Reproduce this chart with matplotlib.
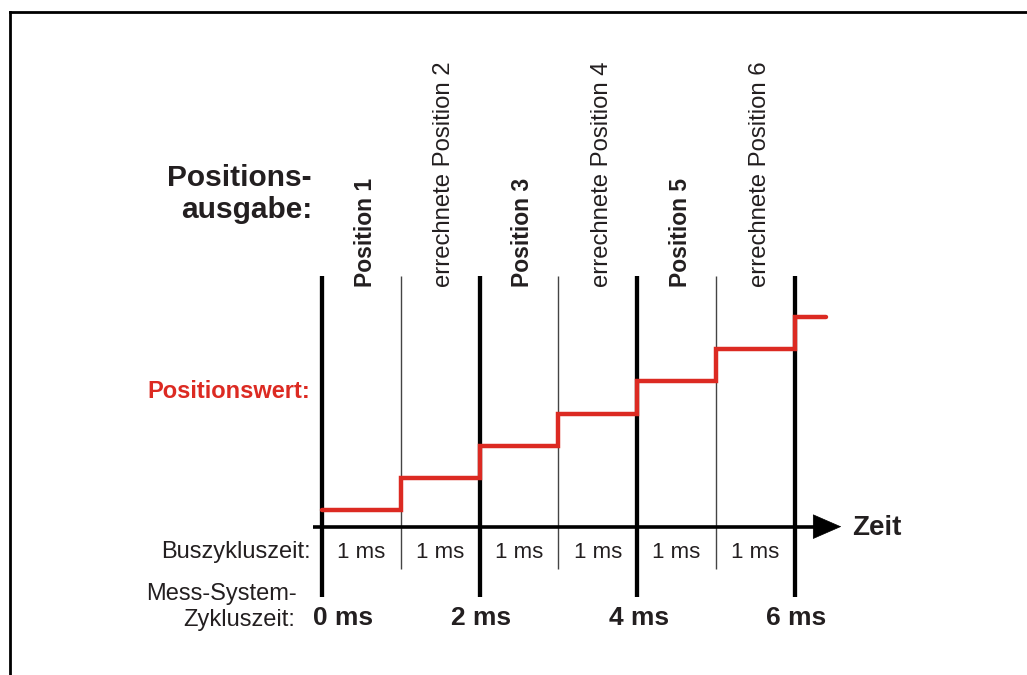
import matplotlib.pyplot as plt
from matplotlib.lines import Line2D

plt.rcParams['font.family'] = ['Liberation Sans', 'DejaVu Sans']

# Zeitachse in ms, Positionswert als Stufe je Buszyklus
zeit_ms = [0, 1, 2, 3, 4, 5, 6, 6.4]
positionswert = [1, 2, 3, 4, 5, 6, 7, 7]
mess_takte = [0, 2, 4, 6]          # Mess-System-Zykluszeit (dicke Linien)
bus_takte = [1, 3, 5]              # nur Buszyklus (duenne Linien)
ausgabe_labels = ['Position 1', 'errechnete Position 2', 'Position 3',
                  'errechnete Position 4', 'Position 5', 'errechnete Position 6']
ausgabe_fett = [True, False, True, False, True, False]
bus_labels = ['1 ms'] * 6
mess_labels = ['0 ms', '2 ms', '4 ms', '6 ms']

schwarz = '#231f20'
rot = '#dc2a22'

fig = plt.figure(figsize=(10.27, 6.75), dpi=100)
ax = fig.add_axes([0, 0, 1, 1])
ax.set_xlim(-4.086, 8.947)
ax.set_ylim(-4.093, 16.805)
ax.axis('off')

# Rahmen
fig.add_artist(Line2D([0.0097, 0.0097], [0, 0.9822], color='black', lw=2))
fig.add_artist(Line2D([0.0097, 1.0], [0.9822, 0.9822], color='black', lw=2))

# senkrechte Linien
for t in mess_takte:
    ax.plot([t, t], [-1.68, 8.26], color='black', lw=3.1, solid_capstyle='butt')
for t in bus_takte:
    ax.plot([t, t], [-0.81, 8.26], color='#444444', lw=1.0, solid_capstyle='butt')

# Zeitachse mit Pfeil
ax.plot([-0.114, 6.3], [0.5, 0.5], color='black', lw=2.6, solid_capstyle='butt')
ax.annotate('', xy=(6.59, 0.5), xytext=(6.2, 0.5),
            arrowprops=dict(arrowstyle='-|>,head_length=1.95,head_width=0.85',
                            mutation_scale=10, color='black', lw=0.5,
                            shrinkA=0, shrinkB=0))
ax.text(6.73, 0.24, 'Zeit', fontsize=20, fontweight='bold', color=schwarz,
        ha='left', va='baseline')

# Positionswert-Stufen
ax.step(zeit_ms, positionswert, where='post', color=rot, lw=3.2,
        solid_joinstyle='miter', solid_capstyle='round')

# Positionsausgabe-Beschriftungen (senkrecht)
for i, (lab, fett) in enumerate(zip(ausgabe_labels, ausgabe_fett)):
    ax.text(i + 0.5 + 0.13, 7.92, lab, rotation=90, rotation_mode='anchor',
            ha='left', va='baseline', fontsize=16.5 if fett else 17.2,
            color=schwarz, fontweight='bold' if fett else 'normal')

# Buszykluszeit
for i, lab in enumerate(bus_labels):
    ax.text(i + 0.5, -0.47, lab, fontsize=16, color=schwarz,
            ha='center', va='baseline')

# Mess-System-Zykluszeit
for t, lab in zip(mess_takte, mess_labels):
    if t == 0:
        ax.text(-0.114, -2.54, lab, fontsize=19, fontweight='bold', color=schwarz,
                ha='left', va='baseline')
    else:
        ax.text(t + 0.02, -2.54, lab, fontsize=19, fontweight='bold', color=schwarz,
                ha='center', va='baseline')

# linke Beschriftungen
ax.text(-0.127, 11.05, 'Positions-', fontsize=21.5, fontweight='bold',
        color=schwarz, ha='right', va='baseline')
ax.text(-0.127, 10.06, 'ausgabe:', fontsize=21.5, fontweight='bold',
        color=schwarz, ha='right', va='baseline')
ax.text(-0.152, 4.48, 'Positionswert:', fontsize=17, fontweight='bold',
        color=rot, ha='right', va='baseline')
ax.text(-0.14, -0.47, 'Buszykluszeit:', fontsize=17, color=schwarz,
        ha='right', va='baseline')
ax.text(-0.317, -1.77, 'Mess-System-', fontsize=17, color=schwarz,
        ha='right', va='baseline')
ax.text(-0.343, -2.58, 'Zykluszeit:', fontsize=17, color=schwarz,
        ha='right', va='baseline')

fig.savefig('out.png', dpi=100)
